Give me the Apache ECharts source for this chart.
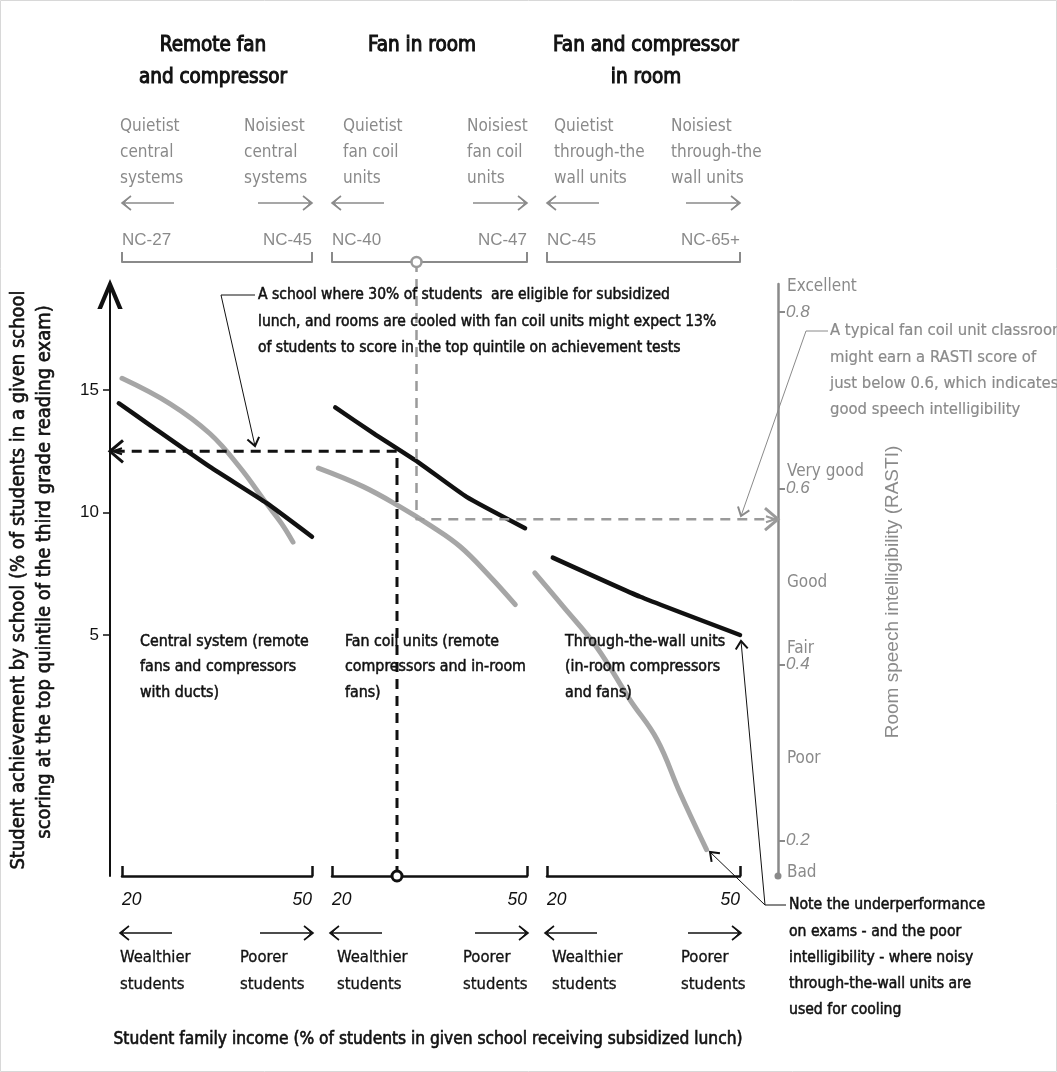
<!DOCTYPE html>
<html><head><meta charset="utf-8">
<script src="https://cdn.jsdelivr.net/npm/echarts@6/dist/echarts.min.js"></script>
<style>html,body{margin:0;padding:0;background:#fff}#c{width:1057px;height:1072px}</style>
</head><body><div id="c"></div><script>
// ---------- data ----------
const panelTitles = [['Remote fan','and compressor'],['Fan in room'],['Fan and compressor','in room']];
const quietLabels = [['Quietist','central','systems'],['Quietist','fan coil','units'],['Quietist','through-the','wall units']];
const noisyLabels = [['Noisiest','central','systems'],['Noisiest','fan coil','units'],['Noisiest','through-the','wall units']];
const ncLabels = [['NC-27','NC-45'],['NC-40','NC-47'],['NC-45','NC-65+']];
const systemLabels = [['Central system (remote','fans and compressors','with ducts)'],['Fan coil units (remote','compressors and in-room','fans)'],['Through-the-wall units','(in-room compressors','and fans)']];
const incomeTicks = [20, 50];
const achievementTicks = [5, 10, 15];
const rastiTicks = [0.2, 0.4, 0.6, 0.8];
const rastiRatings = ['Excellent','Very good','Good','Fair','Poor','Bad'];
const rastiRatingValues = [0.829, 0.619, 0.493, 0.418, 0.293, 0.164];

const achievementCentral = [[19.5,14.46],[24.4,13.57],[33.9,11.86],[42.8,10.39],[50,9.01]];
const rastiCentral = [[20,0.725],[27.6,0.696],[33.9,0.662],[38.6,0.624],[42.8,0.583],[45.2,0.560],[47,0.539]];
const achievementFanCoil = [[20.5,14.29],[26.4,13.23],[33.5,12.01],[40.7,10.64],[49.7,9.36]];
const rastiFanCoil = [[17.9,0.623],[24.8,0.602],[30.5,0.579],[35.1,0.558],[39.7,0.534],[44.3,0.500],[48.2,0.468]];
const achievementWall = [[20.9,8.16],[34.5,6.56],[50,5.0]];
const rastiWall = [[18.1,0.504],[22.5,0.466],[27.7,0.420],[32.9,0.360],[37.1,0.315],[40.7,0.254],[44.8,0.190]];

const exampleIncome = 30, exampleAchievement = 12.5;
const exampleNoisePos = 33, exampleRasti = 0.565;

// ---------- layout ----------
const FONT = "'Liberation Sans Narrow','DejaVu Sans Condensed','Liberation Sans',sans-serif";
const NUMFONT = "'Liberation Sans','DejaVu Sans',sans-serif";
const INK = '#111', GREY = '#8a8a8a', LINEGREY = '#a6a6a6', DASHGREY = '#9a9a9a';
const TOP = 284, H = 592;
const grids = [{left:122,width:190},{left:332,width:195},{left:547,width:193}];
const ACH_MIN = -4.84, ACH_MAX = 19.33, R_MIN = 0.160, R_MAX = 0.832;
const LEFT_OFF = 12, RIGHT_OFF = 38, TOP_OFF = 22;

// panel-2 data coordinates of the outer axes (for the guide lines)
const p2 = grids[1];
const toP2X = px => 20 + (px - p2.left) * 30 / p2.width;
const leftAxisInP2 = toP2X(grids[0].left - LEFT_OFF);
const rightAxisInP2 = toP2X(grids[2].left + grids[2].width + RIGHT_OFF);
const ncAxisRasti = R_MIN + (H + TOP_OFF) / H * (R_MAX - R_MIN);

const arrowUp = 'path://M0,26 L11,0 L22,26 L18,26 L11,9 L4,26 Z';

const xAxis = [], yAxis = [];
grids.forEach((gr, i) => {
  xAxis.push({gridIndex:i, type:'value', min:20, max:50, position:'bottom',
    axisLine:{show:true, onZero:false, lineStyle:{color:INK, width:2.5}},
    axisTick:{show:true, inside:true, length:10, customValues:incomeTicks, lineStyle:{color:INK, width:2.5}},
    axisLabel:{customValues:incomeTicks, margin:15, color:INK, fontSize:17.5, fontStyle:'italic', fontFamily:NUMFONT,
      alignMinLabel:'left', alignMaxLabel:'right'},
    splitLine:{show:false}});
  xAxis.push({gridIndex:i, type:'value', min:20, max:50, position:'top', offset:TOP_OFF,
    axisLine:{show:true, onZero:false, lineStyle:{color:GREY, width:2}},
    axisTick:{show:true, inside:false, length:10, customValues:incomeTicks, lineStyle:{color:GREY, width:2}},
    axisLabel:{customValues:incomeTicks, margin:13, color:GREY, fontSize:17, fontFamily:NUMFONT,
      formatter:v => v <= 20 ? ncLabels[i][0] : ncLabels[i][1], alignMinLabel:'left', alignMaxLabel:'right'},
    splitLine:{show:false}});
  yAxis.push({gridIndex:i, type:'value', min:ACH_MIN, max:ACH_MAX, position:'left', offset:LEFT_OFF, show:i === 0,
    axisLine:{show:true, onZero:false, lineStyle:{color:INK, width:2}, symbol:['none', arrowUp], symbolSize:[30,30], symbolOffset:[0,-10]},
    axisTick:{show:true, customValues:achievementTicks, length:7, lineStyle:{color:INK, width:1.5}},
    axisLabel:{customValues:achievementTicks, margin:11, color:INK, fontSize:17, fontFamily:NUMFONT},
    splitLine:{show:false}});
  yAxis.push({gridIndex:i, type:'value', min:R_MIN, max:R_MAX, position:'right', offset:RIGHT_OFF, show:i === 2,
    axisLine:{show:true, onZero:false, lineStyle:{color:GREY, width:2.5}, symbol:['circle','none'], symbolSize:[7,7]},
    axisTick:{show:true, customValues:rastiTicks, length:7, lineStyle:{color:GREY, width:2}},
    axisLabel:{customValues:rastiTicks, margin:8, color:GREY, fontSize:17, fontStyle:'italic', fontFamily:NUMFONT,
      formatter:v => v.toFixed(1)},
    splitLine:{show:false}});
});
yAxis.push({gridIndex:2, type:'value', min:R_MIN, max:R_MAX, position:'right', offset:RIGHT_OFF,
  axisLine:{show:false}, axisTick:{show:false}, splitLine:{show:false},
  axisLabel:{customValues:rastiRatingValues, margin:9, color:GREY, fontSize:17, fontFamily:FONT,
    formatter:v => { let k = 0; rastiRatingValues.forEach((r, j) => { if (Math.abs(r - v) < Math.abs(rastiRatingValues[k] - v)) k = j; }); return rastiRatings[k]; }}});

// a whole curve drawn through the axis scales (api.coord), not clipped to the grid
function curve(points, xi, yi, color, width, smooth, dash, ends) {
  return {type:'custom', xAxisIndex:xi, yAxisIndex:yi, clip:false, silent:true, z:3,
    data:points, encode:{x:0, y:1},
    renderItem:(params, api) => {
      if (params.dataIndex !== 0) return null;
      const pts = points.map(p => api.coord(p));
      const children = [{type:'polyline', shape:{points:pts, smooth:smooth}, style:{stroke:color, lineWidth:width, fill:null, lineDash:dash || null, lineCap:dash ? 'butt' : 'round', lineJoin:'round'}}];
      if (ends) {
        const a = pts[0], b = pts[pts.length - 1], c = pts[pts.length - 2];
        children.push({type:'circle', shape:{cx:a[0], cy:a[1], r:5}, style:{fill:'#fff', stroke:color, lineWidth:ends.w}});
        const d = Math.sign(b[0] - c[0]);
        children.push({type:'polyline', shape:{points:[[b[0] - d * 13, b[1] - 11], [b[0], b[1]], [b[0] - d * 13, b[1] + 11]]}, style:{stroke:color, lineWidth:3, fill:null}});
        children.push({type:'polyline', shape:{points:[[b[0] - d * 12, b[1] - 3], [b[0] - d * 3, b[1]], [b[0] - d * 12, b[1] + 3]]}, style:{stroke:color, lineWidth:2, fill:null}});
      }
      return {type:'group', children};
    }};
}
const series = [
  curve(rastiCentral, 0, 1, LINEGREY, 5, 0.4),
  curve(achievementCentral, 0, 0, INK, 4.5, 0.15),
  curve(rastiFanCoil, 2, 3, LINEGREY, 5, 0.4),
  curve(achievementFanCoil, 2, 2, INK, 4.5, 0.15),
  curve(rastiWall, 4, 5, LINEGREY, 5, 0.4),
  curve(achievementWall, 4, 4, INK, 4.5, 0.15),
  curve([[exampleIncome, ACH_MIN], [exampleIncome, exampleAchievement], [leftAxisInP2, exampleAchievement]], 2, 2, INK, 3, 0, [10, 7], {w:3}),
  curve([[exampleNoisePos, ncAxisRasti], [exampleNoisePos, exampleRasti], [rightAxisInP2, exampleRasti]], 2, 3, DASHGREY, 2.5, 0, [10, 7], {w:2.5})
];

// ---------- annotations ----------
const g = [];
function addText(x, y, text, o) {
  const st = Object.assign({text, fill:INK, fontFamily:FONT, fontSize:16, align:'left', verticalAlign:'top', lineHeight:26}, o || {});
  if (st.heavy) { st.stroke = st.fill; st.lineWidth = st.heavy; delete st.heavy; }
  const rot = st.rot || 0; delete st.rot;
  g.push({type:'text', x, y, silent:true, z:10, rotation:rot, style:st});
}
function addLine(points, color, width) {
  g.push({type:'polyline', silent:true, z:9, shape:{points}, style:{stroke:color, lineWidth:width, fill:null}});
}
function hArrow(x1, x2, y, dir, color) {
  addLine([[x1, y], [x2, y]], color, 1.5);
  const tip = dir < 0 ? x1 : x2;
  addLine([[tip - dir * 9, y - 7], [tip, y], [tip - dir * 9, y + 7]], color, 1.6);
  addLine([[tip - dir * 6, y - 4.5], [tip - dir * 2, y], [tip - dir * 6, y + 4.5]], color, 1);
}
function head(from, tip, color) {
  const dx = tip[0] - from[0], dy = tip[1] - from[1], L = Math.hypot(dx, dy);
  const ux = dx / L, uy = dy / L, px = -uy, py = ux;
  addLine([[tip[0] - 8 * ux + 6 * px, tip[1] - 8 * uy + 6 * py], tip, [tip[0] - 8 * ux - 6 * px, tip[1] - 8 * uy - 6 * py]], color, 2);
}

const titleX = [213, 422, 646];
panelTitles.forEach((t, i) => addText(titleX[i], 30, t.join('\n'), {align:'center', fontSize:20.5, lineHeight:32, heavy:1}));
const quietX = [120, 343, 554], noisyX = [244, 467, 671];
const wealthX = [120, 337, 552], poorX = [240, 463, 681];
const sysX = [140, 345, 565];
grids.forEach((gr, i) => {
  const r = gr.left + gr.width;
  addText(quietX[i], 114, quietLabels[i].join('\n'), {fill:GREY, fontSize:17, lineHeight:26});
  addText(noisyX[i], 114, noisyLabels[i].join('\n'), {fill:GREY, fontSize:17, lineHeight:26});
  hArrow(gr.left, gr.left + 52, 203, -1, GREY);
  hArrow(r - 54, r, 203, 1, GREY);
  hArrow(gr.left - 2, gr.left + 50, 933, -1, INK);
  hArrow(r - 52, r + 1, 933, 1, INK);
  addText(wealthX[i], 944, 'Wealthier\nstudents', {fontSize:16.5, lineHeight:27, heavy:0.3});
  addText(poorX[i], 944, 'Poorer\nstudents', {fontSize:16.5, lineHeight:27, heavy:0.3});
  addText(sysX[i], 629, systemLabels[i].join('\n'), {fontSize:15.8, lineHeight:25.5, heavy:0.5});
});
addText(428, 1040, 'Student family income (% of students in given school receiving subsidized lunch)', {align:'center', verticalAlign:'middle', fontSize:17.2, heavy:0.6});
addText(19, 580, 'Student achievement by school (% of students in a given school', {rot:Math.PI / 2, align:'center', verticalAlign:'middle', fontSize:20, heavy:0.6});
addText(45, 572, 'scoring at the top quintile of the third grade reading exam)', {rot:Math.PI / 2, align:'center', verticalAlign:'middle', fontSize:20, heavy:0.6});
addText(893, 592, 'Room speech intelligibility (RASTI)', {rot:Math.PI / 2, align:'center', verticalAlign:'middle', fill:GREY, fontFamily:NUMFONT, fontSize:19});

addText(258, 282, 'A school where 30% of students  are eligible for subsidized\nlunch, and rooms are cooled with fan coil units might expect 13%\nof students to score in the top quintile on achievement tests', {fontSize:15.5, lineHeight:26.5, heavy:0.5});
addLine([[255, 295], [221, 295], [255, 446]], INK, 1);
head([221, 295], [255, 446], INK);
addText(830, 318, 'A typical fan coil unit classroom\nmight earn a RASTI score of\njust below 0.6, which indicates\ngood speech intelligibility', {fill:GREY, fontSize:16.5, lineHeight:26.3, heavy:0.2});
addLine([[828, 331], [806, 331], [741, 516]], GREY, 1);
head([806, 331], [741, 516], GREY);
addText(789, 892, 'Note the underperformance\non exams - and the poor\nintelligibility - where noisy\nthrough-the-wall units are\nused for cooling', {fontSize:15.6, lineHeight:26.3, heavy:0.5});
addLine([[786, 905], [765, 905], [741, 641]], INK, 1);
addLine([[765, 905], [710, 852]], INK, 1);
head([765, 905], [741, 641], INK);
head([765, 905], [710, 852], INK);
g.push({type:'rect', silent:true, shape:{x:0.5, y:0.5, width:1056, height:1071}, style:{stroke:'#d8d8d8', fill:null, lineWidth:1}});

const chart = echarts.init(document.getElementById('c'), null, {renderer:'canvas'});
chart.setOption({animation:false, backgroundColor:'#fff',
  grid:grids.map(gr => ({left:gr.left, top:TOP, width:gr.width, height:H})),
  xAxis, yAxis, series, graphic:g});
</script></body></html>
